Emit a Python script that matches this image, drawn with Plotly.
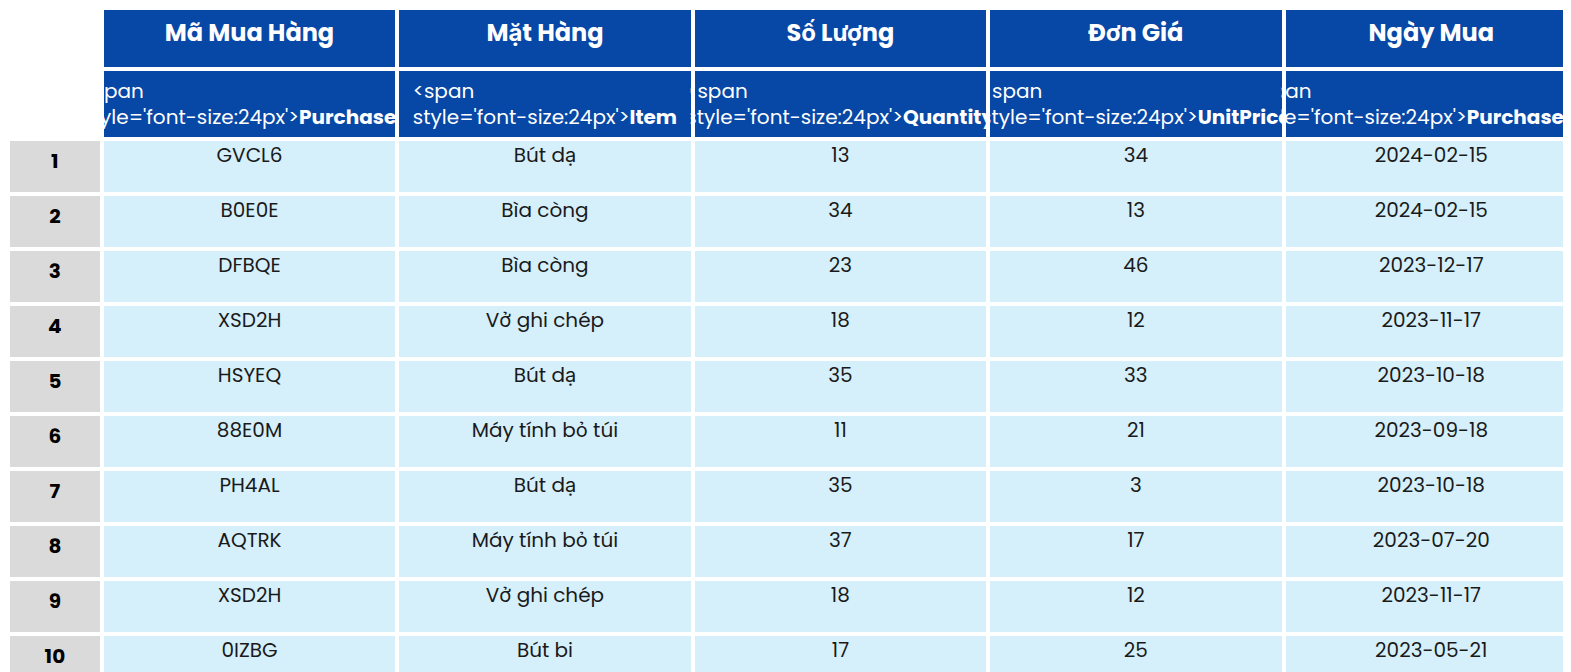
import plotly.graph_objects as go

headers_vi = ["", "Mã Mua Hàng", "Mặt Hàng", "Số Lượng", "Đơn Giá", "Ngày Mua"]
headers_en = ["", "PurchaseID", "Item", "Quantity", "UnitPrice", "PurchaseDate"]
row_nums = [str(i) for i in range(1, 11)]
purchase_id = ["GVCL6", "B0E0E", "DFBQE", "XSD2H", "HSYEQ", "88E0M", "PH4AL", "AQTRK", "XSD2H", "0IZBG"]
item = ["Bút dạ", "Bìa còng", "Bìa còng", "Vở ghi chép", "Bút dạ", "Máy tính bỏ túi", "Bút dạ", "Máy tính bỏ túi", "Vở ghi chép", "Bút bi"]
quantity = [13, 34, 23, 18, 35, 11, 35, 37, 18, 17]
unit_price = [34, 13, 46, 12, 33, 21, 3, 17, 12, 25]
purchase_date = ["2024-02-15", "2024-02-15", "2023-12-17", "2023-11-17", "2023-10-18",
                 "2023-09-18", "2023-10-18", "2023-07-20", "2023-11-17", "2023-05-21"]

BLUE = "#0747a6"
LIGHT = "#d5f0fb"
GRAY = "#dadada"

data_cols = [row_nums, purchase_id, item, quantity, unit_price, purchase_date]
cell_vals = []
fills = []
fcolors = []
for i, col in enumerate(data_cols):
    if i == 0:
        vals = [""] + ["<b>%s</b>" % v for v in col]
        fills.append(["white"] + [GRAY] * 10)
        fcolors.append(["black"] * 11)
    else:
        vals = ["<span style='font-size:24px'><b>%s</b></span>" % headers_en[i]] + [str(v) for v in col]
        fills.append([BLUE] + [LIGHT] * 10)
        fcolors.append(["white"] + ["#1a1a1a"] * 10)
    cell_vals.append(vals)

fig = go.Figure(go.Table(
    columnwidth=[93, 293, 293, 293, 293, 293],
    header=dict(values=["<b>%s</b>" % h for h in headers_vi],
                fill_color=["white"] + [BLUE] * 5,
                font=dict(color="white", size=24, family="Poppins, Inter, Open Sans"),
                line=dict(color="white", width=4), height=61, align="center"),
    cells=dict(values=cell_vals, fill_color=fills,
               font=dict(color=fcolors, size=20, family="Poppins, Inter, Open Sans"),
               line=dict(color="white", width=4), height=55, align="center"),
    domain=dict(x=[0, 1], y=[0, 1]),
))
fig.update_layout(width=1571, height=672, margin=dict(l=0, r=0, t=0, b=0),
                  paper_bgcolor="white")
fig.write_html("out.html")
